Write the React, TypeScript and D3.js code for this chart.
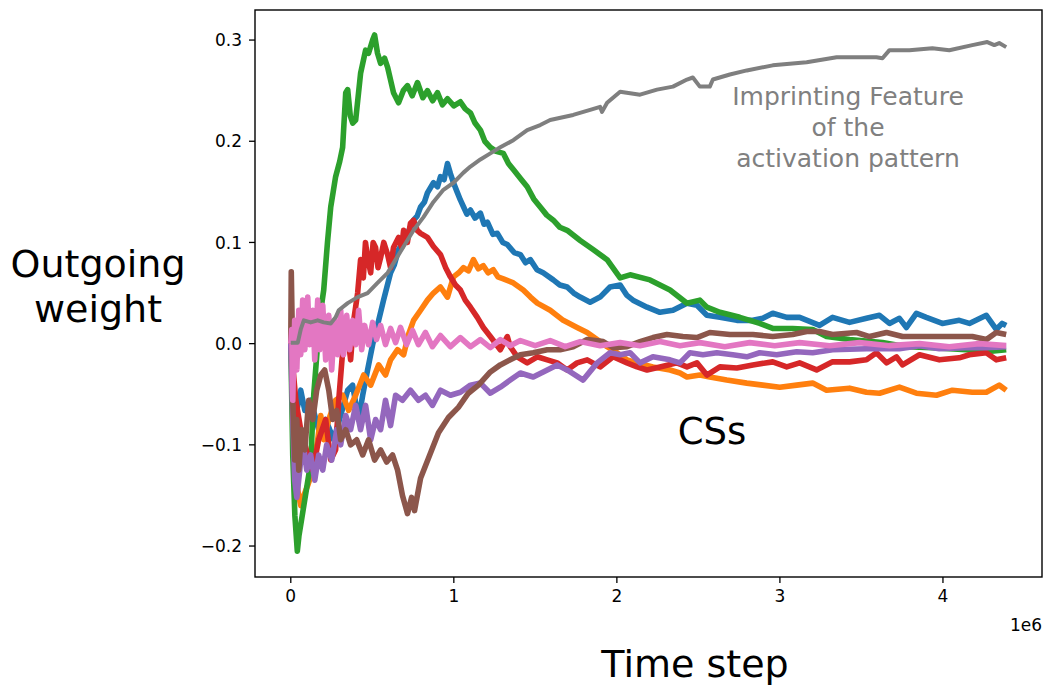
import React from "react";
import * as d3 from "d3";

// time in units of 1e6 steps, value = outgoing weight
const blueSeries: [number, number][] = [
  [0, 0.0], [0.018, -0.056], [0.037, -0.066], [0.061, -0.046], [0.086, -0.066], [0.122, -0.056],
  [0.171, -0.085], [0.214, -0.075], [0.263, -0.095], [0.306, -0.071], [0.349, -0.046], [0.379, -0.041],
  [0.416, -0.075], [0.441, -0.051], [0.471, -0.026], [0.502, -0.001], [0.539, 0.023], [0.569, 0.043],
  [0.612, 0.07], [0.635, 0.078], [0.661, 0.093], [0.69, 0.1], [0.716, 0.109], [0.753, 0.122],
  [0.775, 0.126], [0.796, 0.135], [0.82, 0.14], [0.838, 0.149], [0.875, 0.159], [0.9, 0.155],
  [0.918, 0.165], [0.94, 0.162], [0.961, 0.178], [0.979, 0.168], [0.998, 0.159], [1.02, 0.15],
  [1.04, 0.142], [1.06, 0.135], [1.08, 0.128], [1.102, 0.132], [1.13, 0.124], [1.163, 0.129],
  [1.185, 0.118], [1.206, 0.12], [1.24, 0.108], [1.267, 0.109], [1.3, 0.1], [1.328, 0.098],
  [1.37, 0.09], [1.408, 0.088], [1.44, 0.08], [1.469, 0.083], [1.51, 0.073], [1.548, 0.07],
  [1.61, 0.063], [1.65, 0.058], [1.695, 0.056], [1.735, 0.05], [1.775, 0.046], [1.836, 0.041],
  [1.897, 0.046], [1.958, 0.056], [2.02, 0.058], [2.06, 0.048], [2.099, 0.043], [2.185, 0.036],
  [2.264, 0.031], [2.344, 0.033], [2.43, 0.04], [2.491, 0.038], [2.552, 0.028], [2.632, 0.026],
  [2.736, 0.023], [2.834, 0.023], [2.895, 0.025], [2.956, 0.03], [3.042, 0.026], [3.121, 0.026],
  [3.243, 0.018], [3.323, 0.026], [3.427, 0.021], [3.531, 0.025], [3.611, 0.028], [3.672, 0.02],
  [3.733, 0.025], [3.776, 0.016], [3.837, 0.03], [3.898, 0.026], [3.996, 0.02], [4.1, 0.023],
  [4.162, 0.02], [4.266, 0.028], [4.327, 0.014], [4.363, 0.02], [4.388, 0.018],
];

const orangeSeries: [number, number][] = [
  [0, 0.0], [0.018, -0.075], [0.043, -0.145], [0.061, -0.16], [0.08, -0.15], [0.104, -0.14],
  [0.135, -0.125], [0.165, -0.095], [0.184, -0.071], [0.202, -0.095], [0.233, -0.075], [0.275, -0.056],
  [0.318, -0.051], [0.355, -0.066], [0.398, -0.051], [0.447, -0.031], [0.49, -0.041], [0.539, -0.021],
  [0.581, -0.031], [0.612, -0.016], [0.655, -0.006], [0.692, -0.011], [0.722, 0.009], [0.753, 0.023],
  [0.796, 0.033], [0.838, 0.043], [0.875, 0.05], [0.918, 0.056], [0.961, 0.046], [0.998, 0.066],
  [1.03, 0.07], [1.059, 0.075], [1.09, 0.072], [1.12, 0.083], [1.15, 0.074], [1.181, 0.077],
  [1.21, 0.07], [1.242, 0.073], [1.27, 0.066], [1.304, 0.064], [1.365, 0.06], [1.426, 0.053],
  [1.47, 0.046], [1.512, 0.04], [1.591, 0.033], [1.671, 0.023], [1.756, 0.016], [1.818, 0.011],
  [1.879, 0.004], [1.94, -0.003], [2.001, -0.009], [2.062, -0.016], [2.124, -0.019], [2.221, -0.023],
  [2.326, -0.026], [2.387, -0.029], [2.43, -0.033], [2.509, -0.031], [2.57, -0.033], [2.674, -0.036],
  [2.797, -0.039], [2.895, -0.041], [2.999, -0.043], [3.103, -0.041], [3.201, -0.039], [3.286, -0.046],
  [3.427, -0.044], [3.531, -0.048], [3.611, -0.049], [3.733, -0.043], [3.837, -0.049], [3.96, -0.051],
  [4.058, -0.046], [4.18, -0.048], [4.266, -0.048], [4.345, -0.041], [4.388, -0.046],
];

const greenSeries: [number, number][] = [
  [0, 0.0], [0.012, -0.11], [0.025, -0.17], [0.04, -0.205], [0.05, -0.19], [0.065, -0.175],
  [0.08, -0.16], [0.1, -0.14], [0.122, -0.118], [0.141, -0.05], [0.165, 0.0], [0.184, 0.033],
  [0.202, 0.053], [0.225, 0.1], [0.245, 0.135], [0.26, 0.15], [0.275, 0.165], [0.3, 0.18],
  [0.318, 0.194], [0.337, 0.248], [0.349, 0.251], [0.365, 0.225], [0.38, 0.218], [0.398, 0.221],
  [0.428, 0.267], [0.459, 0.29], [0.477, 0.287], [0.502, 0.3], [0.514, 0.305], [0.532, 0.287],
  [0.551, 0.277], [0.575, 0.282], [0.594, 0.273], [0.63, 0.248], [0.661, 0.238], [0.69, 0.25],
  [0.716, 0.255], [0.745, 0.245], [0.777, 0.258], [0.81, 0.243], [0.838, 0.25], [0.87, 0.24],
  [0.9, 0.248], [0.93, 0.236], [0.961, 0.242], [1.0, 0.235], [1.04, 0.239], [1.07, 0.232],
  [1.102, 0.228], [1.13, 0.218], [1.163, 0.211], [1.19, 0.2], [1.224, 0.194], [1.26, 0.19],
  [1.304, 0.188], [1.335, 0.178], [1.365, 0.172], [1.41, 0.163], [1.45, 0.155], [1.49, 0.143],
  [1.53, 0.135], [1.57, 0.127], [1.61, 0.122], [1.65, 0.115], [1.695, 0.112], [1.775, 0.102],
  [1.854, 0.093], [1.94, 0.083], [2.02, 0.065], [2.081, 0.068], [2.203, 0.063], [2.326, 0.053],
  [2.43, 0.04], [2.509, 0.043], [2.552, 0.036], [2.632, 0.031], [2.754, 0.026], [2.876, 0.02],
  [2.956, 0.015], [3.078, 0.015], [3.201, 0.014], [3.286, 0.007], [3.427, 0.004], [3.629, 0.001],
  [3.776, -0.003], [3.935, -0.004], [4.143, -0.006], [4.266, -0.008], [4.388, -0.006],
];

const redSeries: [number, number][] = [
  [0, 0.0], [0.031, -0.056], [0.061, -0.085], [0.104, -0.11], [0.135, -0.125], [0.171, -0.095],
  [0.214, -0.075], [0.245, -0.115], [0.275, -0.105], [0.294, -0.056], [0.324, 0.004], [0.349, 0.009],
  [0.367, -0.016], [0.386, 0.023], [0.41, 0.05], [0.428, 0.083], [0.445, 0.065], [0.458, 0.1],
  [0.471, 0.085], [0.49, 0.07], [0.505, 0.1], [0.52, 0.095], [0.535, 0.075], [0.551, 0.085],
  [0.57, 0.1], [0.594, 0.088], [0.612, 0.075], [0.63, 0.095], [0.661, 0.105], [0.68, 0.095],
  [0.692, 0.112], [0.715, 0.1], [0.734, 0.119], [0.753, 0.122], [0.775, 0.112], [0.796, 0.109],
  [0.838, 0.105], [0.875, 0.096], [0.918, 0.088], [0.95, 0.075], [0.979, 0.066], [1.01, 0.058],
  [1.04, 0.053], [1.07, 0.043], [1.102, 0.036], [1.144, 0.026], [1.181, 0.016], [1.224, 0.007],
  [1.285, -0.006], [1.328, 0.007], [1.346, -0.003], [1.389, -0.013], [1.45, -0.019], [1.512, -0.013],
  [1.573, -0.016], [1.634, -0.019], [1.695, -0.026], [1.756, -0.019], [1.818, -0.016], [1.897, -0.023],
  [1.977, -0.013], [2.062, -0.019], [2.124, -0.023], [2.185, -0.026], [2.264, -0.023], [2.368, -0.019],
  [2.43, -0.023], [2.491, -0.019], [2.552, -0.031], [2.632, -0.023], [2.736, -0.024], [2.834, -0.021],
  [2.956, -0.018], [3.042, -0.023], [3.121, -0.019], [3.225, -0.026], [3.323, -0.018], [3.427, -0.018],
  [3.531, -0.016], [3.592, -0.009], [3.654, -0.019], [3.715, -0.013], [3.752, -0.021], [3.856, -0.011],
  [3.978, -0.016], [4.1, -0.014], [4.162, -0.011], [4.266, -0.009], [4.327, -0.016], [4.388, -0.014],
];

const purpleSeries: [number, number][] = [
  [0, 0.0], [0.012, -0.075], [0.024, -0.135], [0.037, -0.152], [0.055, -0.125], [0.073, -0.095],
  [0.098, -0.125], [0.122, -0.11], [0.147, -0.135], [0.171, -0.11], [0.196, -0.125], [0.22, -0.1],
  [0.251, -0.115], [0.282, -0.085], [0.306, -0.1], [0.337, -0.071], [0.367, -0.085], [0.398, -0.061],
  [0.428, -0.085], [0.459, -0.061], [0.49, -0.095], [0.52, -0.075], [0.551, -0.085], [0.581, -0.056],
  [0.612, -0.081], [0.643, -0.051], [0.685, -0.056], [0.734, -0.046], [0.783, -0.056], [0.826, -0.051],
  [0.869, -0.061], [0.918, -0.046], [0.979, -0.051], [1.04, -0.048], [1.102, -0.041], [1.163, -0.039],
  [1.224, -0.049], [1.285, -0.043], [1.346, -0.036], [1.408, -0.029], [1.487, -0.033], [1.573, -0.026],
  [1.634, -0.021], [1.695, -0.026], [1.793, -0.036], [1.879, -0.019], [1.958, -0.009], [2.02, -0.011],
  [2.081, -0.009], [2.142, -0.019], [2.221, -0.013], [2.326, -0.016], [2.387, -0.019], [2.448, -0.009],
  [2.528, -0.011], [2.613, -0.009], [2.711, -0.011], [2.797, -0.013], [2.876, -0.009], [2.98, -0.011],
  [3.103, -0.008], [3.201, -0.009], [3.323, -0.006], [3.531, -0.005], [3.733, -0.005], [3.856, -0.002],
  [3.978, -0.005], [4.143, -0.004], [4.266, -0.004], [4.388, -0.003],
];

const brownSeries: [number, number][] = [
  [0, 0.0], [0.003, 0.071], [0.009, 0.014], [0.012, -0.056], [0.024, -0.115], [0.037, -0.075],
  [0.049, -0.125], [0.067, -0.085], [0.086, -0.105], [0.11, -0.056], [0.135, -0.075], [0.159, -0.046],
  [0.184, -0.031], [0.208, -0.026], [0.233, -0.046], [0.257, -0.075], [0.282, -0.066], [0.306, -0.095],
  [0.337, -0.085], [0.367, -0.1], [0.404, -0.095], [0.441, -0.11], [0.477, -0.095], [0.514, -0.115],
  [0.551, -0.105], [0.588, -0.117], [0.624, -0.11], [0.655, -0.125], [0.685, -0.15], [0.716, -0.168],
  [0.741, -0.152], [0.759, -0.165], [0.796, -0.133], [0.845, -0.113], [0.906, -0.088], [0.967, -0.073],
  [1.028, -0.063], [1.089, -0.049], [1.151, -0.041], [1.224, -0.028], [1.285, -0.021], [1.346, -0.016],
  [1.408, -0.011], [1.487, -0.009], [1.573, -0.006], [1.652, -0.006], [1.732, -0.003], [1.818, 0.004],
  [1.916, 0.002], [1.977, -0.004], [2.062, -0.003], [2.142, 0.002], [2.221, 0.006], [2.307, 0.009],
  [2.405, 0.007], [2.491, 0.006], [2.57, 0.011], [2.693, 0.009], [2.834, 0.009], [2.956, 0.007],
  [3.078, 0.009], [3.164, 0.012], [3.243, 0.012], [3.323, 0.009], [3.47, 0.011], [3.55, 0.007],
  [3.654, 0.011], [3.752, 0.007], [3.856, 0.007], [3.96, 0.007], [4.082, 0.007], [4.18, 0.007],
  [4.266, 0.004], [4.327, 0.011], [4.388, 0.009],
];

const pinkSeries: [number, number][] = [
  [0, 0.0], [0.006, 0.014], [0.012, -0.056], [0.024, 0.023], [0.037, -0.026], [0.049, 0.033],
  [0.061, -0.011], [0.073, 0.043], [0.086, -0.006], [0.104, 0.046], [0.116, -0.001], [0.135, 0.033],
  [0.147, -0.016], [0.165, 0.043], [0.177, -0.006], [0.196, 0.038], [0.214, -0.016], [0.233, 0.028],
  [0.251, -0.026], [0.269, 0.023], [0.288, -0.011], [0.306, 0.033], [0.324, -0.011], [0.343, 0.028],
  [0.361, -0.006], [0.379, 0.023], [0.398, -0.001], [0.416, 0.033], [0.435, -0.006], [0.453, 0.018],
  [0.477, -0.001], [0.502, 0.021], [0.526, 0.004], [0.551, 0.018], [0.581, -0.001], [0.612, 0.015],
  [0.643, 0.001], [0.673, 0.016], [0.71, -0.001], [0.747, 0.013], [0.783, -0.001], [0.826, 0.011],
  [0.869, -0.003], [0.918, 0.008], [0.979, -0.003], [1.04, 0.006], [1.102, -0.003], [1.163, 0.004],
  [1.224, -0.004], [1.285, 0.004], [1.346, -0.002], [1.408, 0.003], [1.499, -0.002], [1.591, 0.003],
  [1.683, -0.003], [1.775, 0.002], [1.897, -0.002], [2.02, 0.001], [2.142, -0.002], [2.264, 0.002],
  [2.387, -0.002], [2.509, 0.001], [2.662, -0.003], [2.815, 0.001], [2.968, -0.002], [3.121, 0.001],
  [3.305, -0.002], [3.488, 0.001], [3.672, -0.002], [3.856, 0.0], [4.039, -0.003], [4.223, 0.0],
  [4.388, -0.002],
];

const greySeries: [number, number][] = [
  [0, 0.001], [0.043, 0.001], [0.061, 0.014], [0.08, 0.023], [0.122, 0.021], [0.165, 0.023],
  [0.202, 0.021], [0.245, 0.02], [0.275, 0.026], [0.294, 0.033], [0.349, 0.04], [0.41, 0.046],
  [0.471, 0.05], [0.532, 0.06], [0.594, 0.07], [0.643, 0.083], [0.692, 0.096], [0.753, 0.112],
  [0.814, 0.125], [0.875, 0.14], [0.936, 0.152], [0.998, 0.159], [1.059, 0.169], [1.102, 0.175],
  [1.163, 0.182], [1.224, 0.188], [1.285, 0.194], [1.365, 0.201], [1.45, 0.211], [1.53, 0.216],
  [1.591, 0.221], [1.732, 0.226], [1.836, 0.231], [1.897, 0.234], [1.909, 0.229], [1.94, 0.238],
  [2.02, 0.249], [2.142, 0.246], [2.246, 0.251], [2.344, 0.254], [2.43, 0.261], [2.466, 0.263],
  [2.509, 0.254], [2.57, 0.254], [2.589, 0.261], [2.693, 0.266], [2.797, 0.27], [2.956, 0.275],
  [3.164, 0.278], [3.348, 0.283], [3.427, 0.283], [3.592, 0.283], [3.629, 0.282], [3.672, 0.29],
  [3.794, 0.29], [3.935, 0.292], [4.039, 0.29], [4.18, 0.295], [4.272, 0.298], [4.315, 0.295],
  [4.345, 0.297], [4.388, 0.293],
];

const seriesList = [
  { name: "C0", data: blueSeries, color: "#1f77b4" },
  { name: "C1", data: orangeSeries, color: "#ff7f0e" },
  { name: "C2", data: greenSeries, color: "#2ca02c" },
  { name: "C3", data: redSeries, color: "#d62728" },
  { name: "C4", data: purpleSeries, color: "#9467bd" },
  { name: "C5", data: brownSeries, color: "#8c564b" },
  { name: "C6", data: pinkSeries, color: "#e377c2" },
  { name: "C7", data: greySeries, color: "#7f7f7f" },
];

const xTicks = [0, 1, 2, 3, 4];
const yTicks = [-0.2, -0.1, 0.0, 0.1, 0.2, 0.3];
const xDomain: [number, number] = [-0.2195, 4.6075];
const yDomain: [number, number] = [-0.2306, 0.3297];

const annotationLines = ["Imprinting Feature", "of the", "activation pattern"];

const FONT = "'DejaVu Sans', sans-serif";

export default function App() {
  const W = 1047;
  const H = 688;
  const left = 255;
  const right = 1042;
  const top = 10;
  const bottom = 577;

  const x = d3.scaleLinear().domain(xDomain).range([left, right]);
  const y = d3.scaleLinear().domain(yDomain).range([bottom, top]);
  const line = d3
    .line<[number, number]>()
    .x((d) => x(d[0]))
    .y((d) => y(d[1]));

  const fmtY = (v: number) => {
    const s = Math.abs(v).toFixed(1);
    return v < -1e-9 ? "\u2212" + s : s;
  };

  return (
    <svg
      width={W}
      height={H}
      style={{ position: "absolute", left: 0, top: 0, background: "#fff" }}
    >
      <rect x={0} y={0} width={W} height={H} fill="#fff" />
      <g>
        {seriesList.map((s) => (
          <path
            key={s.name}
            d={line(s.data) || ""}
            fill="none"
            stroke={s.color}
            strokeWidth={s.name === "C7" ? 4 : 5.6}
            strokeLinejoin="round"
            strokeLinecap="butt"
          />
        ))}
      </g>
      <rect
        x={left}
        y={top}
        width={right - left}
        height={bottom - top}
        fill="none"
        stroke="#000"
        strokeWidth={1.4}
      />
      {xTicks.map((t) => (
        <g key={"xt" + t}>
          <line x1={x(t)} x2={x(t)} y1={bottom} y2={bottom + 6} stroke="#000" strokeWidth={1.3} />
          <text
            x={x(t)}
            y={bottom + 25}
            textAnchor="middle"
            fontFamily={FONT}
            fontSize={17}
            fill="#000"
          >
            {t}
          </text>
        </g>
      ))}
      {yTicks.map((t) => (
        <g key={"yt" + t}>
          <line x1={left - 6} x2={left} y1={y(t)} y2={y(t)} stroke="#000" strokeWidth={1.3} />
          <text
            x={left - 13}
            y={y(t)}
            dy="0.36em"
            textAnchor="end"
            fontFamily={FONT}
            fontSize={17}
            fill="#000"
          >
            {fmtY(t)}
          </text>
        </g>
      ))}
      <text x={right} y={631} textAnchor="end" fontFamily={FONT} fontSize={17} fill="#000">
        1e6
      </text>
      <text x={695} y={677} textAnchor="middle" fontFamily={FONT} fontSize={38} fill="#000">
        Time step
      </text>
      <text textAnchor="middle" fontFamily={FONT} fontSize={38} fill="#000">
        <tspan x={98} y={277}>Outgoing</tspan>
        <tspan x={98} y={322}>weight</tspan>
      </text>
      <text x={712} y={444} textAnchor="middle" fontFamily={FONT} fontSize={37} fill="#000">
        CSs
      </text>
      <text textAnchor="middle" fontFamily={FONT} fontSize={25} fill="#808080">
        {annotationLines.map((l, i) => (
          <tspan key={i} x={848} y={105 + i * 31}>
            {l}
          </tspan>
        ))}
      </text>
    </svg>
  );
}
